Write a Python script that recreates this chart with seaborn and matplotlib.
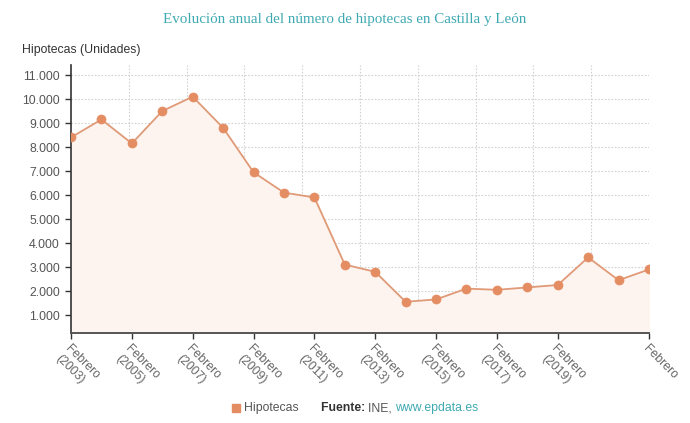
import matplotlib
matplotlib.use("Agg")
from matplotlib import pyplot as plt
from matplotlib.ticker import FixedLocator
import numpy as np
import seaborn as sns
import pandas as pd

years = list(range(2003, 2023))
hipotecas = [8400, 9150, 8150, 9500, 10100, 8800, 6950, 6100, 5900, 3100,
             2800, 1550, 1650, 2100, 2050, 2150, 2250, 3400, 2450, 2900]
tick_years = [2003, 2005, 2007, 2009, 2011, 2013, 2015, 2017, 2019, 2022]
tick_labels = [f"Febrero\n({y})" for y in tick_years[:-1]] + ["Febrero"]
y_ticks = list(range(1000, 12000, 1000))

line_color = "#e09a78"
marker_color = "#e48c62"
fill_color = "#fdf4ef"
teal = "#3fa9b2"

sns.set_style("white")
plt.rcParams["font.family"] = ["Liberation Sans", "DejaVu Sans"]

df = pd.DataFrame({"year": years, "Hipotecas": hipotecas})

fig = plt.figure(figsize=(6.9, 4.23), dpi=100)
ax = fig.add_axes([71 / 690, 1 - 333 / 423, 578 / 690, 268 / 423])

ax.fill_between(df["year"], df["Hipotecas"], 0, color=fill_color, zorder=1)
sns.lineplot(data=df, x="year", y="Hipotecas", ax=ax, color=line_color,
             linewidth=1.3, marker="o", markersize=6.5,
             markerfacecolor=marker_color, markeredgecolor=marker_color,
             markeredgewidth=0.5, zorder=3)

ax.set_xlim(2003, 2022)
ax.set_ylim(250, 11420)

ax.set_yticks(y_ticks)
ax.set_yticklabels([f"{v:,}".replace(",", ".") for v in y_ticks])
ax.set_xticks(tick_years)
ax.set_xticklabels(tick_labels, rotation=-45, ha="left", va="top",
                   rotation_mode="anchor")

# vertical grid splits the width into ten equal parts
ax.xaxis.set_minor_locator(FixedLocator(np.linspace(2003, 2022, 11)))
ax.grid(axis="y", which="major", color="#d2d2d2", linestyle=(0, (1.5, 1.5)), linewidth=0.8)
ax.grid(axis="x", which="minor", color="#d2d2d2", linestyle=(0, (1.5, 1.5)), linewidth=0.8)
ax.grid(axis="x", which="major", visible=False)
ax.set_axisbelow(True)

ax.tick_params(axis="y", which="major", left=True, length=4, width=1,
               color="#333333", labelsize=8.8, labelcolor="#555555", pad=4)
ax.tick_params(axis="x", which="major", bottom=True, length=4, width=1,
               color="#333333", labelsize=8.8, labelcolor="#666666", pad=3)
ax.tick_params(axis="x", which="minor", bottom=False)

for side in ["top", "right"]:
    ax.spines[side].set_visible(False)
ax.spines["left"].set_color("#333333")
ax.spines["left"].set_linewidth(1.2)
ax.spines["bottom"].set_color("#555555")
ax.spines["bottom"].set_linewidth(1.4)
ax.set_xlabel("")
ax.set_ylabel("")

fig.text(0.5, 1 - 20 / 423, "Evolución anual del número de hipotecas en Castilla y León",
         ha="center", va="center", fontsize=10.8, color=teal,
         family=["Liberation Serif", "DejaVu Serif"])
fig.text(22 / 690, 1 - 50 / 423, "Hipotecas (Unidades)", ha="left", va="center",
         fontsize=8.8, color="#333333")

# legend and source line
yl = 1 - 408 / 423
fig.canvas.draw()
renderer = fig.canvas.get_renderer()
fig.patches.append(plt.Rectangle((232 / 690, yl - 4 / 423), 8 / 690, 8 / 423,
                                 transform=fig.transFigure, color=marker_color,
                                 figure=fig))
x = 244 / 690
pieces = [("Hipotecas", "normal", "#555555", 22),
          ("Fuente: ", "bold", "#333333", 0),
          ("INE, ", "normal", "#555555", 0),
          ("www.epdata.es", "normal", teal, 0)]
for text, weight, color, gap in pieces:
    t = fig.text(x, yl, text, ha="left", va="center", fontsize=8.8,
                 fontweight=weight, color=color)
    bb = t.get_window_extent(renderer)
    x += (bb.width + gap) / fig.bbox.width

fig.savefig("out.png", dpi=100)
